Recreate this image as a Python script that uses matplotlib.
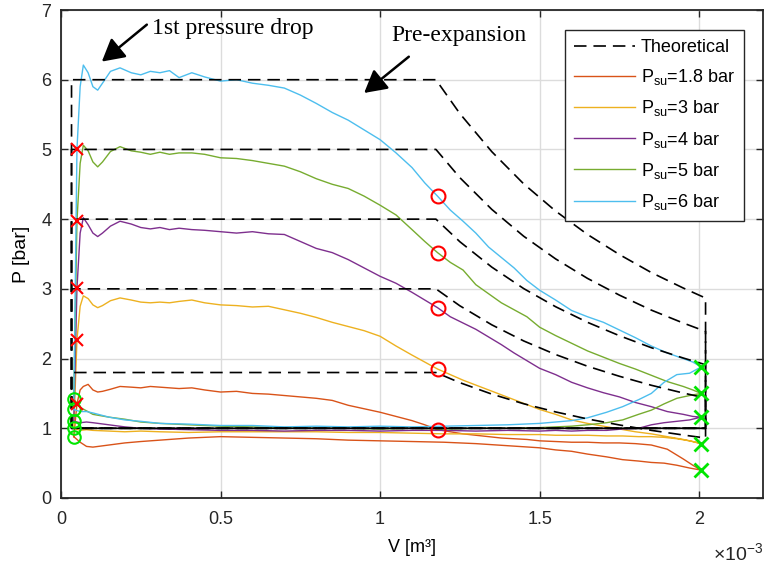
import numpy as np
import matplotlib
matplotlib.use("Agg")
import matplotlib.pyplot as plt
from matplotlib.ticker import FuncFormatter

plt.rcParams['font.family'] = ['Liberation Sans', 'DejaVu Sans']
plt.rcParams['mathtext.fontset'] = 'custom'
plt.rcParams['mathtext.rm'] = 'Liberation Sans'
plt.rcParams['mathtext.it'] = 'Liberation Sans:italic'
plt.rcParams['lines.scale_dashes'] = False

# volumes in 1e-3 m^3, pressures in bar
labels = ['P$_{\\rm su}$=1.8 bar', 'P$_{\\rm su}$=3 bar', 'P$_{\\rm su}$=4 bar',
          'P$_{\\rm su}$=5 bar', 'P$_{\\rm su}$=6 bar']
colors = ['#D95319', '#EDB120', '#7E2F8E', '#77AC30', '#4DBEEE']

# theoretical cycle
p_su = [1.8, 3, 4, 5, 6]
p_ex = 1.0
v_dead = 0.033
v_exp = [1.175, 1.25, 1.35, 1.45, 1.55, 1.65, 1.75, 1.85, 1.95, 2.02]
ratio_exp = [1.0, 0.919, 0.828, 0.751, 0.686, 0.630, 0.582, 0.539, 0.502, 0.478]

# measured cycles: intake + expansion branch
v_up = [0.04, 0.05, 0.06, 0.07, 0.085, 0.1, 0.115, 0.13, 0.155, 0.185,
        0.22, 0.25, 0.28, 0.31, 0.34, 0.37, 0.41, 0.45, 0.5, 0.55,
        0.6, 0.65, 0.7, 0.75, 0.8, 0.85, 0.9, 0.95, 1.0, 1.05,
        1.1, 1.14, 1.18, 1.22, 1.26, 1.3, 1.34, 1.38, 1.42, 1.46,
        1.5, 1.55, 1.6, 1.65, 1.7, 1.75, 1.8, 1.85, 1.9, 1.95,
        1.98, 2.006]
p_up_18 = [0.88, 1.35, 1.55, 1.6, 1.63, 1.55, 1.52, 1.53, 1.56, 1.6,
           1.59, 1.58, 1.6, 1.59, 1.58, 1.57, 1.58, 1.55, 1.52, 1.53,
           1.5, 1.49, 1.47, 1.45, 1.43, 1.4, 1.33, 1.28, 1.23, 1.17,
           1.11, 1.05, 0.98, 0.95, 0.92, 0.9, 0.88, 0.86, 0.85, 0.84,
           0.82, 0.81, 0.8, 0.8, 0.79, 0.79, 0.78, 0.76, 0.7, 0.56,
           0.47, 0.4]
p_up_3 = [1.0, 2.27, 2.75, 2.9, 2.86, 2.77, 2.73, 2.76, 2.83, 2.87,
          2.84, 2.81, 2.8, 2.81, 2.8, 2.82, 2.84, 2.8, 2.77, 2.76,
          2.74, 2.75, 2.7, 2.65, 2.59, 2.52, 2.46, 2.4, 2.32, 2.18,
          2.05, 1.95, 1.85, 1.77, 1.69, 1.62, 1.55, 1.48, 1.41, 1.34,
          1.27, 1.2, 1.12, 1.07, 1.03, 0.99, 0.95, 0.92, 0.88, 0.84,
          0.81, 0.78]
p_up_4 = [1.1, 3.01, 3.8, 4.02, 3.92, 3.8, 3.75, 3.8, 3.9, 3.97,
          3.93, 3.88, 3.86, 3.88, 3.85, 3.87, 3.85, 3.84, 3.82, 3.8,
          3.82, 3.79, 3.78, 3.68, 3.58, 3.52, 3.42, 3.3, 3.18, 3.08,
          2.95, 2.84, 2.73, 2.6, 2.51, 2.42, 2.31, 2.2, 2.08, 1.97,
          1.86, 1.77, 1.66, 1.58, 1.51, 1.45, 1.37, 1.31, 1.24, 1.2,
          1.17, 1.16]
p_up_5 = [1.42, 3.97, 4.8, 5.06, 4.98, 4.82, 4.75, 4.82, 4.97, 5.04,
          4.98, 4.96, 4.93, 4.96, 4.93, 4.95, 4.95, 4.93, 4.88, 4.87,
          4.84, 4.8, 4.76, 4.68, 4.58, 4.5, 4.44, 4.33, 4.2, 4.06,
          3.85, 3.68, 3.52, 3.38, 3.27, 3.06, 2.93, 2.8, 2.7, 2.6,
          2.45, 2.33, 2.22, 2.11, 2.02, 1.93, 1.85, 1.76, 1.67, 1.6,
          1.55, 1.5]
p_up_6 = [1.27, 5.0, 5.9, 6.21, 6.1, 5.9, 5.85, 5.95, 6.12, 6.17,
          6.1, 6.07, 6.12, 6.1, 6.13, 6.03, 6.1, 6.04, 5.98, 6.0,
          5.95, 5.92, 5.88, 5.78, 5.66, 5.53, 5.42, 5.28, 5.14, 4.95,
          4.74, 4.52, 4.33, 4.13, 3.97, 3.8, 3.6, 3.45, 3.3, 3.12,
          2.98, 2.84, 2.69, 2.6, 2.52, 2.41, 2.3, 2.18, 2.08, 2.0,
          1.95, 1.88]

# measured cycles: exhaust branch
v_low = [2.006, 1.97, 1.93, 1.89, 1.85, 1.81, 1.76, 1.71, 1.65, 1.6,
         1.55, 1.5, 1.4, 1.3, 1.2, 1.1, 1.0, 0.9, 0.8, 0.7,
         0.6, 0.5, 0.4, 0.31, 0.25, 0.2, 0.15, 0.1, 0.08, 0.06, 0.04]
p_low_18 = [0.4, 0.43, 0.47, 0.5, 0.51, 0.53, 0.55, 0.59, 0.63, 0.67,
            0.69, 0.72, 0.75, 0.78, 0.8, 0.81, 0.82, 0.83, 0.85, 0.86,
            0.87, 0.88, 0.86, 0.83, 0.81, 0.79, 0.76, 0.73, 0.74, 0.8, 0.88]
p_low_3 = [0.78, 0.82, 0.85, 0.87, 0.88, 0.88, 0.89, 0.89, 0.9, 0.9,
           0.9, 0.91, 0.91, 0.92, 0.92, 0.93, 0.94, 0.94, 0.95, 0.95,
           0.95, 0.95, 0.94, 0.95, 0.96, 0.95, 0.96, 0.97, 0.98, 0.97, 1.0]
p_low_4 = [1.16, 1.12, 1.1, 1.08, 1.05, 1.0, 0.99, 0.97, 0.97, 0.96,
           0.97, 0.96, 0.97, 0.96, 0.97, 0.97, 0.96, 0.97, 0.97, 0.96,
           0.97, 0.97, 0.98, 0.99, 1.0, 1.02, 1.05, 1.08, 1.09, 1.08, 1.1]
p_low_5 = [1.5, 1.47, 1.43, 1.35, 1.26, 1.2, 1.12, 1.08, 1.05, 1.03,
           1.02, 1.01, 1.0, 1.0, 0.99, 1.0, 0.99, 1.0, 1.0, 1.01,
           1.02, 1.03, 1.05, 1.07, 1.09, 1.13, 1.16, 1.2, 1.25, 1.3, 1.42]
p_low_6 = [1.88, 1.79, 1.77, 1.66, 1.5, 1.41, 1.31, 1.23, 1.15, 1.11,
           1.09, 1.07, 1.05, 1.04, 1.03, 1.02, 1.03, 1.02, 1.03, 1.02,
           1.04, 1.04, 1.06, 1.07, 1.1, 1.12, 1.16, 1.22, 1.24, 1.24, 1.27]

p_up = [p_up_18, p_up_3, p_up_4, p_up_5, p_up_6]
p_low = [p_low_18, p_low_3, p_low_4, p_low_5, p_low_6]

# marker points
v_start, p_start = 0.04, [0.88, 1.0, 1.1, 1.42, 1.27]
v_drop, p_drop = 0.05, [1.35, 2.27, 3.01, 3.97, 5.0]
v_cut, p_cut = 1.18, [0.98, 1.85, 2.73, 3.52, 4.33]
v_end, p_end = 2.006, [0.4, 0.78, 1.16, 1.5, 1.88]

S = 1e-3
fig = plt.figure(figsize=(7.64, 5.67), dpi=100)
ax = fig.add_axes([61/764, 69/567, 702/764, 488/567])

handles = []
for i in range(5):
    v = np.array(v_up + v_low) * S
    p = np.array(p_up[i] + p_low[i])
    h, = ax.plot(v, p, color=colors[i], lw=1.0, label=labels[i], zorder=2)
    handles.append(h)

v_end_th = v_exp[-1]
for i, ps in enumerate(p_su):
    p_exp = [ps * r for r in ratio_exp]
    v = [v_dead, v_dead] + v_exp + [v_end_th, v_dead]
    p = [p_ex, ps] + p_exp + [p_ex, p_ex]
    h, = ax.plot(np.array(v) * S, p, color='k', lw=1.2, dashes=(9, 5),
                 label='Theoretical', zorder=3)
    if i == 0:
        th = h

ax.plot([v_start * S] * 5, p_start, 'o', ms=9, mfc='none', mec='#00e600', mew=1.5, zorder=4)
ax.plot([v_drop * S] * 5, p_drop, 'x', ms=8, mec='#ff0000', mew=1.5, zorder=4)
ax.plot([v_cut * S] * 5, p_cut, 'o', ms=10, mfc='none', mec='#ff0000', mew=1.5, zorder=4)
ax.plot([v_end * S] * 5, p_end, 'x', ms=10, mec='#00e600', mew=2, zorder=4)

arrow = dict(arrowstyle='-|>,head_length=0.9,head_width=0.5', color='k', lw=1.8,
             shrinkA=0, shrinkB=0, mutation_scale=15)
ax.annotate('', xy=(0.128e-3, 6.26), xytext=(0.269e-3, 6.79), arrowprops=arrow)
ax.annotate('', xy=(0.95e-3, 5.81), xytext=(1.09e-3, 6.33), arrowprops=arrow)
ax.text(0.284e-3, 6.73, '1st pressure drop', family='Liberation Serif', fontsize=17, va='center')
ax.text(1.034e-3, 6.63, 'Pre-expansion', family='Liberation Serif', fontsize=17, va='center')

ax.set_xlim(0, 2.2e-3)
ax.set_ylim(0, 7)
ax.set_xticks(np.arange(0, 2.01e-3, 0.5e-3))
ax.set_yticks(range(8))
ax.xaxis.set_major_formatter(FuncFormatter(lambda x, _: f'{x * 1e3:g}'))
ax.tick_params(direction='in', top=True, right=True, length=5, width=1,
               colors='#262626', labelsize=13)
ax.tick_params(axis='x', pad=9)
ax.tick_params(axis='y', pad=7)
ax.grid(True, color='#dcdcdc', lw=1.0)
ax.set_axisbelow(True)
for s in ax.spines.values():
    s.set_color('#262626')
    s.set_linewidth(1.3)

ax.set_xlabel('V [m³]', fontsize=13, labelpad=8)
ax.set_ylabel('P [bar]', fontsize=14, labelpad=8)
ax.text(1.0, -0.127, '×10$^{-3}$', transform=ax.transAxes, ha='right', va='baseline',
        fontsize=14, color='#262626')

leg = ax.legend([th] + handles, ['Theoretical'] + labels, loc='upper right',
                bbox_to_anchor=(0.973, 0.959), borderaxespad=0, fontsize=13,
                handlelength=3.4, handletextpad=0.3, labelspacing=0.62,
                borderpad=0.5, fancybox=False, framealpha=1, edgecolor='#262626')
leg.get_frame().set_linewidth(1.0)

fig.savefig('out.png', dpi=100)
